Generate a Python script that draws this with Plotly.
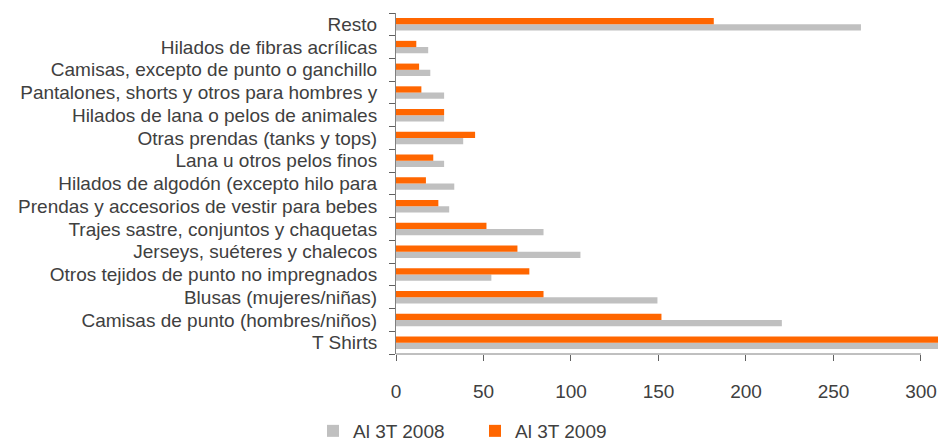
import plotly.graph_objects as go

categories = [
    "T Shirts",
    "Camisas de punto (hombres/niños)",
    "Blusas (mujeres/niñas)",
    "Otros tejidos de punto no impregnados",
    "Jerseys, suéteres y chalecos",
    "Trajes sastre, conjuntos y chaquetas",
    "Prendas y accesorios de vestir para bebes",
    "Hilados de algodón (excepto hilo para",
    "Lana u otros pelos finos",
    "Otras prendas (tanks y tops)",
    "Hilados de lana o pelos de animales",
    "Pantalones, shorts y otros para hombres y",
    "Camisas, excepto de punto o ganchillo",
    "Hilados de fibras acrílicas",
    "Resto",
]
values_2008 = [330, 220.5, 149.4, 54.5, 105.4, 84.3, 30.4, 33.3, 27.5, 38.4, 27.5, 27.5, 19.6, 18.4, 265.7]
values_2009 = [322, 151.7, 84.3, 76.2, 69.4, 51.7, 24.2, 17.1, 21.3, 45.2, 27.5, 14.5, 13.2, 11.6, 181.6]
x_ticks = [0, 50, 100, 150, 200, 250, 300]

font_family = "Liberation Sans, Arial, sans-serif"
text_color = "#404040"

fig = go.Figure()
fig.add_trace(go.Bar(y=categories, x=values_2008, orientation="h", name="Al 3T 2008",
                     marker=dict(color="#C0C0C0", line=dict(width=0))))
fig.add_trace(go.Bar(y=categories, x=values_2009, orientation="h", name="Al 3T 2009",
                     marker=dict(color="#FF6600", line=dict(width=0))))

W, H = 938, 433
fig.update_layout(
    width=W, height=H,
    margin=dict(l=388, r=0, t=5, b=87),
    paper_bgcolor="white", plot_bgcolor="white",
    barmode="group", bargap=0.45, bargroupgap=0,
    font=dict(family=font_family, size=19, color=text_color),
    showlegend=True,
    legend=dict(orientation="h", xref="container", yref="container",
                x=305 / W, xanchor="left", y=1 - 423 / H, yanchor="middle",
                font=dict(size=19, color=text_color),
                entrywidth=117, entrywidthmode="pixels",
                traceorder="normal"),
    xaxis=dict(range=[0, 314.3], tickvals=x_ticks, showgrid=False, zeroline=False,
               showline=False, ticks="outside", ticklen=6, tickcolor="#606060",
               ticklabelstandoff=14, tickfont=dict(size=19, color=text_color)),
    yaxis=dict(type="category", showgrid=False, showline=True, linecolor="#808080",
               linewidth=1, ticks="outside", ticklen=6, tickcolor="#606060",
               tickmode="array", tickvals=categories, ticktext=categories,
               tickson="boundaries", ticklabelstandoff=14,
               tickfont=dict(size=19, color=text_color)),
    shapes=[dict(type="line", xref="x", yref="paper", x0=0, x1=x_ticks[-1], y0=0, y1=0,
                 line=dict(color="#808080", width=1))],
)

fig.write_html("out.html")
